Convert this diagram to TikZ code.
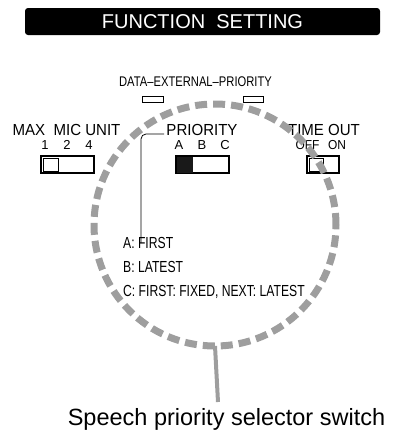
\documentclass[tikz,border=0pt]{standalone}
\usepackage{fontspec}
\setmainfont{Liberation Sans}
\definecolor{dashgray}{RGB}{158,158,158}
\newcommand{\fs}[1]{\fontsize{#1}{#1}\selectfont}
\begin{document}
\begin{tikzpicture}[x=1pt,y=-1pt,
  lab/.style={inner sep=0pt, anchor=base},
  sw/.style={draw=black, line width=1.1pt},
  knobw/.style={draw=black, line width=1pt, fill=white},
  knobb/.style={fill=black!90},
  thinline/.style={draw=black, line width=0.8pt},
  graydash/.style={draw=dashgray, line width=7pt, dash pattern=on 12pt off 6pt},
  grayline/.style={draw=dashgray, line width=4pt}]
\useasboundingbox (0,0) rectangle (401,432);
% title
\node[fill=black, rounded corners=3pt, minimum width=355pt, minimum height=27pt,
      inner sep=0pt, text=white, font=\fs{20}] (title) at (202.5,21.5) {FUNCTION\ \ SETTING};
% DATA-EXTERNAL-PRIORITY
\node[lab, font=\fs{14}] (data) at (195.5,86) {\scalebox{0.8}[1]{DATA–EXTERNAL–PRIORITY}};
\draw[thinline] (142,96) rectangle (163,102);
\draw[thinline] (243,96) rectangle (263,102);
% MAX MIC UNIT
\node[lab, font=\fs{16}] (max) at (66.5,135) {\scalebox{0.94}[1]{MAX\ \ MIC UNIT}};
\node[lab, font=\fs{13}] (m1) at (45,149) {1};
\node[lab, font=\fs{13}] (m2) at (67,149) {2};
\node[lab, font=\fs{13}] (m4) at (89,149) {4};
\draw[sw] (41,156) rectangle (94,173);
\draw[knobw] (43,158) rectangle (58,171);
% PRIORITY
\node[lab, font=\fs{16}] (prio) at (202,135) {\scalebox{0.94}[1]{PRIORITY}};
\node[lab, font=\fs{13}] (pa) at (179,149) {A};
\node[lab, font=\fs{13}] (pb) at (202,149) {B};
\node[lab, font=\fs{13}] (pc) at (225,149) {C};
\draw[sw] (176,156) rectangle (229,173);
\fill[knobb] (176.5,156.5) rectangle (193,172.5);
% TIME OUT
\node[lab, font=\fs{16}] (tout) at (324,135) {\scalebox{0.94}[1]{TIME OUT}};
\node[lab, font=\fs{13}] (toff) at (307.5,149) {\scalebox{0.92}[1]{OFF}};
\node[lab, font=\fs{13}] (ton) at (337,149) {\scalebox{0.92}[1]{ON}};
\draw[sw] (307,156) rectangle (339,173);
\draw[knobw] (309,158) rectangle (323,171);
% leader from PRIORITY
\coordinate (pl) at (164,134);
\coordinate (pe) at (141,243);
\draw[thinline, rounded corners=5pt] (pl) -| (pe);
% descriptions
\node[lab, anchor=base west, font=\fs{16}] (da) at (123,248) {\scalebox{0.76}[1]{A: FIRST}};
\node[lab, anchor=base west, font=\fs{16}] (db) at (123,272) {\scalebox{0.76}[1]{B: LATEST}};
\node[lab, anchor=base west, font=\fs{16}] (dc) at (123,296) {\scalebox{0.76}[1]{C: FIRST: FIXED, NEXT: LATEST}};
% dashed circle
\node[circle, graydash, minimum size=242pt, inner sep=0pt, outer sep=0pt] (sel) at (215,225) {};
% label
\node[lab, font=\fs{23.5}] (spl) at (226.5,425) {Speech priority selector switch};
\coordinate (lend) at (218,402);
\draw[grayline] (sel.south) -- (lend);
\end{tikzpicture}
\end{document}
